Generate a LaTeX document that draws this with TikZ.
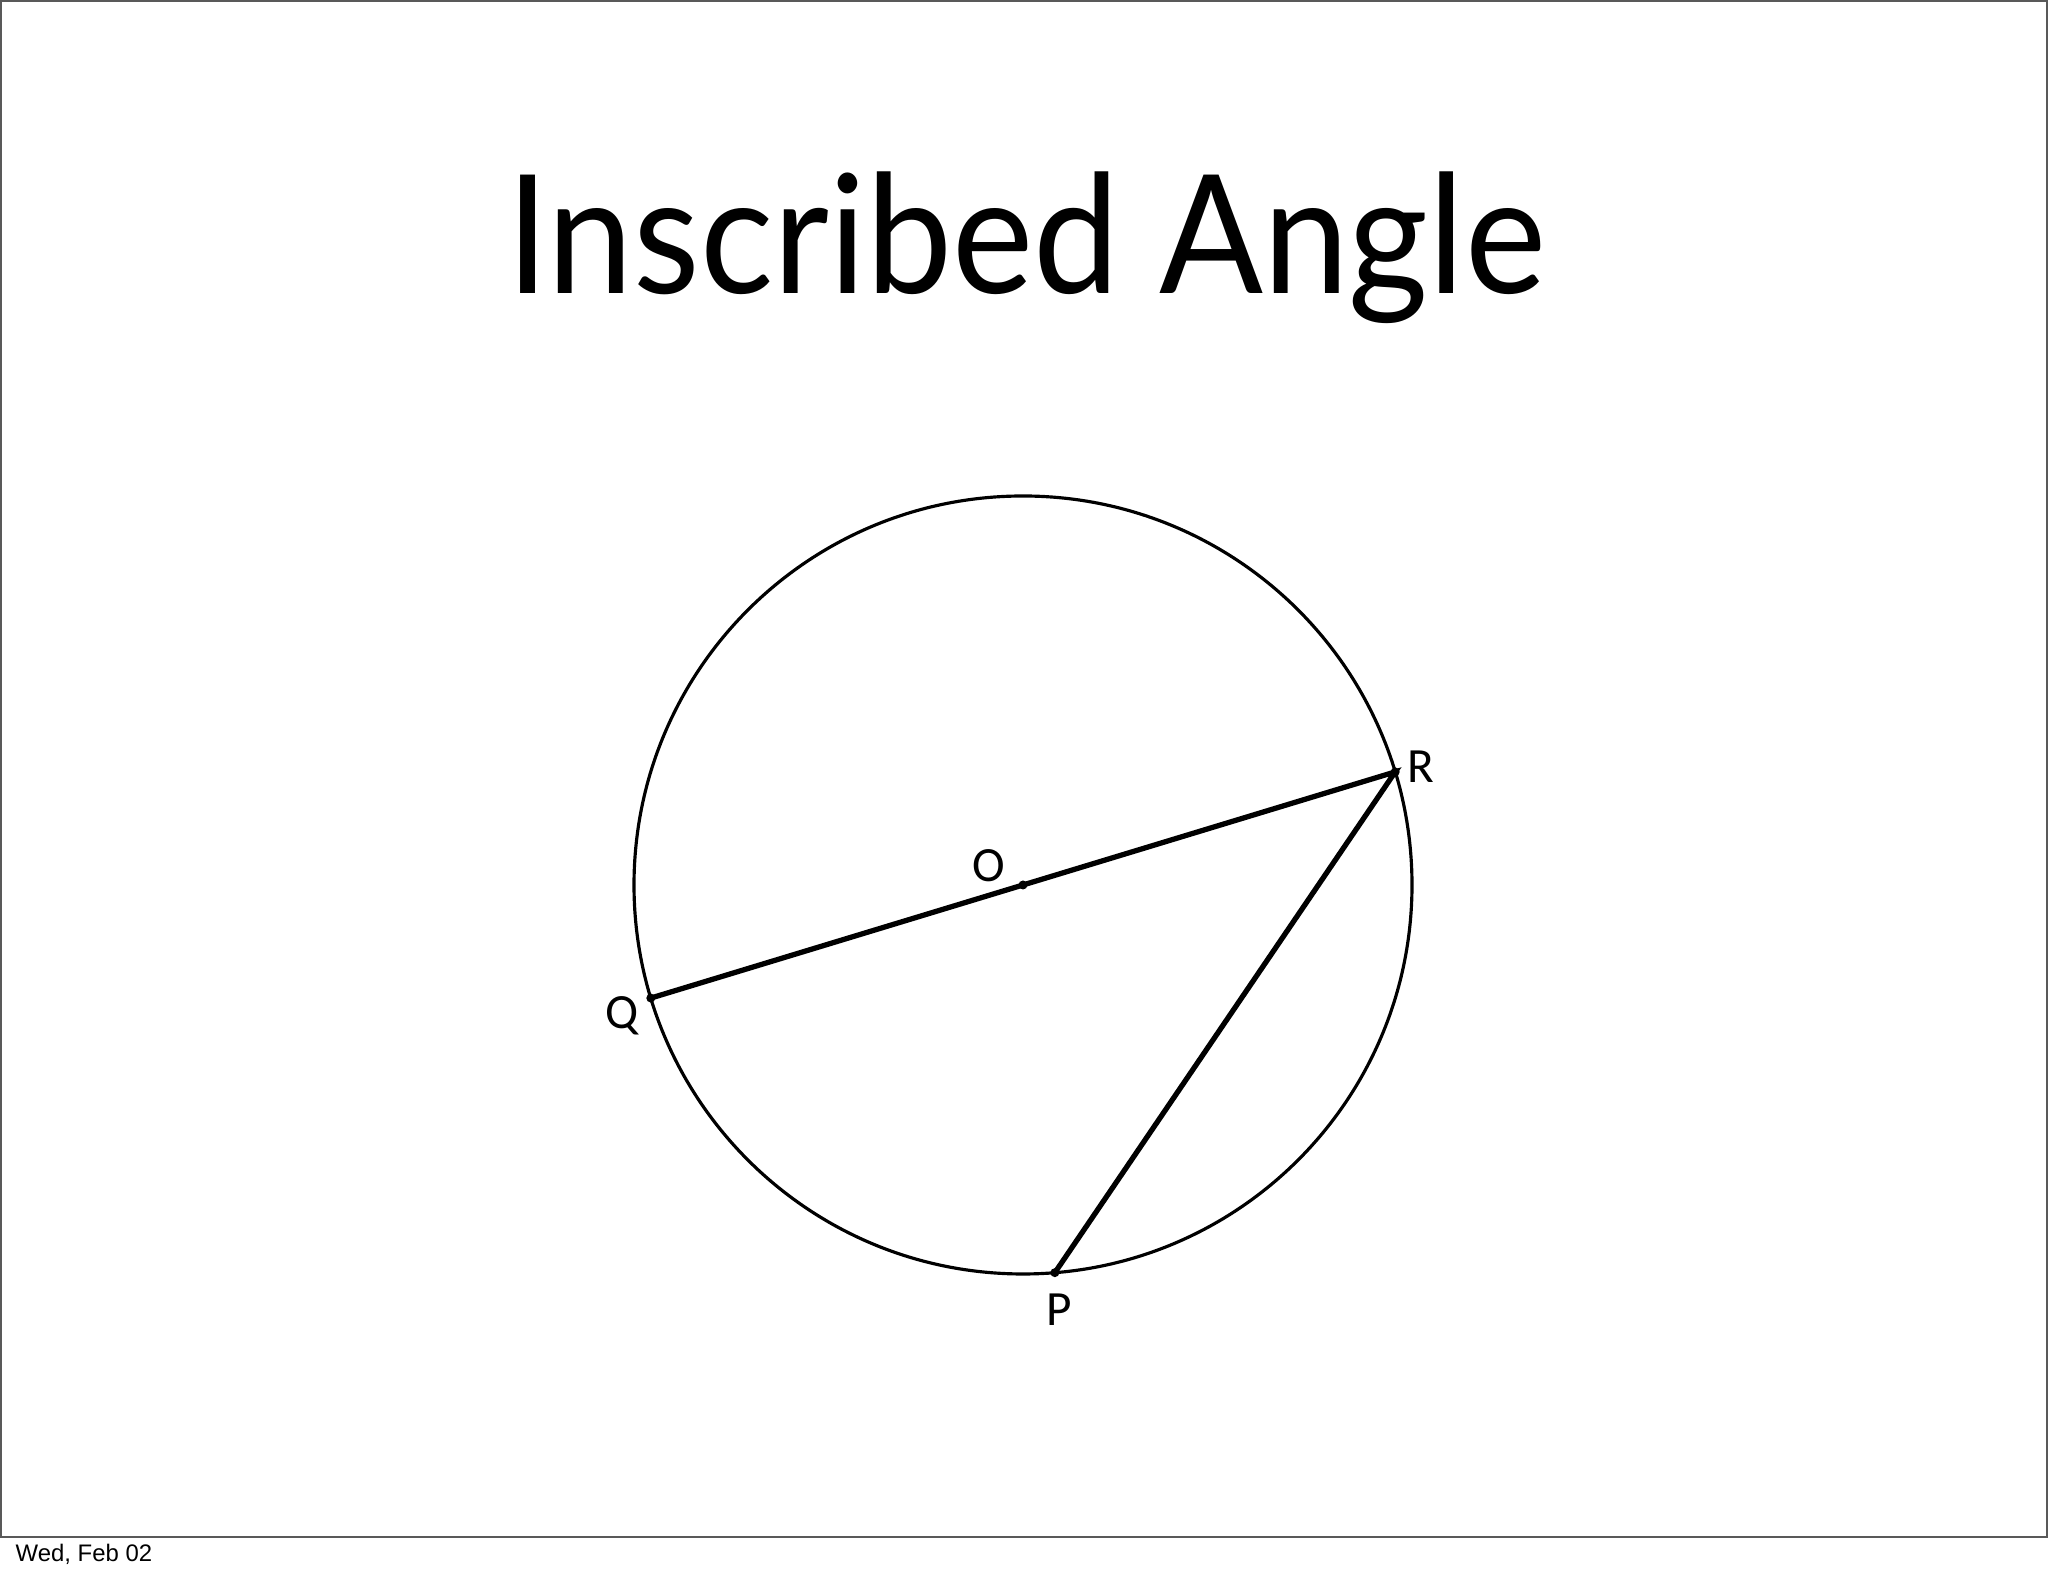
\documentclass[tikz,border=0pt]{standalone}
\usepackage{fontspec}
\usetikzlibrary{calc}
\setmainfont{Lato}
\newfontfamily\labelfont{Carlito}
\newfontfamily\footfont{Liberation Sans}
\begin{document}
\begin{tikzpicture}[x=0.01cm, y=0.01cm]
\useasboundingbox (0,0) rectangle (2048,1576);
\draw[black!65, line width=0.6pt] (1,39) rectangle (2047,1575); % slide frame
\node[anchor=base, font=\fontsize{47}{50}\selectfont] (title) at (1026,1282) {\scalebox{0.93}[1]{Inscribed Angle}};
\node[anchor=base west, font=\footfont\fontsize{6.8}{8}\selectfont, inner sep=0pt] (date) at (15,14) {Wed, Feb 02};
\coordinate (O) at (1023, 691); % centre
\coordinate (R) at ($(O)+(16.9:389)$);
\coordinate (Q) at ($(O)+(196.9:389)$);
\coordinate (P) at ($(O)+(274.7:389)$);
\draw[line width=0.9pt] (O) circle (389);
\draw[line width=1.5pt] (Q) -- (O) -- (R) -- (P);
\foreach \pt in {O,Q,R,P} \fill (\pt) circle (4.5);
\node[font=\labelfont\fontsize{14}{15}\selectfont] (lR) at (1421, 809) {R};
\node[font=\labelfont\fontsize{14}{15}\selectfont] (lO) at (989, 710) {O};
\node[font=\labelfont\fontsize{14}{15}\selectfont] (lQ) at (622, 560) {Q};
\node[font=\labelfont\fontsize{14}{15}\selectfont] (lP) at (1059, 266) {P};
\end{tikzpicture}
\end{document}
